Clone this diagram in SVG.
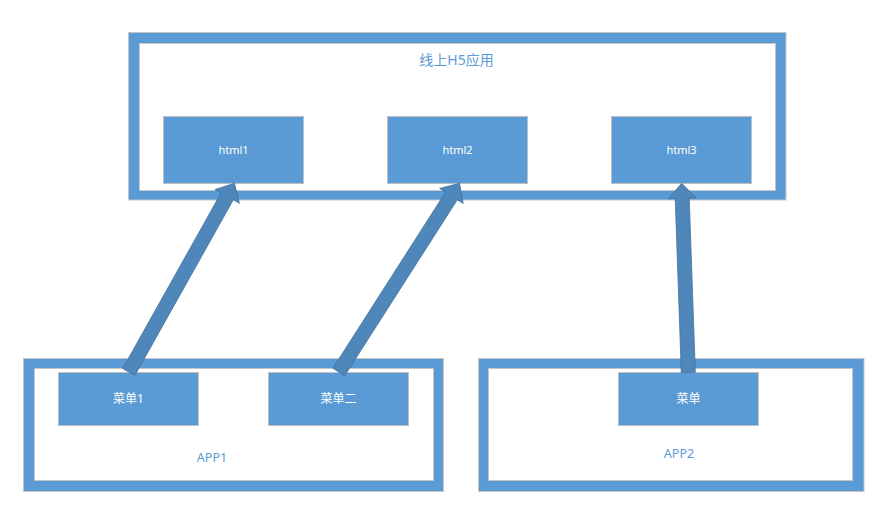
<svg xmlns="http://www.w3.org/2000/svg" width="880" height="526" viewBox="0 0 880 526">
<style>
.frame-out{fill:#5b9bd5;stroke:#c4c4c4;stroke-width:1}
.frame-in{fill:#ffffff;stroke:#c4c4c4;stroke-width:1}
.box{fill:#5b9bd5;stroke:#c0c0c0;stroke-width:1}
.t{font-family:"Noto Sans","Noto Sans CJK SC",sans-serif;text-anchor:middle;dominant-baseline:central}
.w{fill:#ffffff}
.b{fill:#5b9bd5}
.arrow{fill:#4f87bb;stroke:#41719c;stroke-width:0.8;stroke-linejoin:miter}
</style>
<rect width="880" height="526" fill="#ffffff"/>
<g id="h5app">
<rect class="frame-out" x="128.5" y="32.5" width="657.5" height="167.5"/>
<rect class="frame-in" x="139.5" y="43.5" width="636" height="147"/>
<text class="t b" x="456.5" y="59" font-size="14">线上H5应用</text>
</g>
<g id="app1">
<rect class="frame-out" x="23.5" y="358.5" width="420" height="133"/>
<rect class="frame-in" x="34.5" y="368.5" width="399" height="112"/>
<text class="t b" x="212" y="457" font-size="12.5">APP1</text>
</g>
<g id="app2">
<rect class="frame-out" x="478.5" y="358.5" width="385.5" height="133"/>
<rect class="frame-in" x="488.5" y="368.5" width="364" height="112"/>
<text class="t b" x="679" y="453" font-size="12.5">APP2</text>
</g>
<g id="html1">
<rect class="box" x="163.5" y="116.5" width="140" height="67"/>
<text class="t w" x="233.5" y="149.5" font-size="11">html1</text>
</g>
<g id="html2">
<rect class="box" x="387.5" y="116.5" width="140" height="67"/>
<text class="t w" x="457.5" y="149.5" font-size="11">html2</text>
</g>
<g id="html3">
<rect class="box" x="611.5" y="116.5" width="140" height="67"/>
<text class="t w" x="681.5" y="149.5" font-size="11">html3</text>
</g>
<g id="menu1">
<rect class="box" x="58.5" y="372.5" width="140" height="53"/>
<text class="t w" x="128.5" y="398.5" font-size="12">菜单1</text>
</g>
<g id="menu2">
<rect class="box" x="268.5" y="372.5" width="140" height="53"/>
<text class="t w" x="338.5" y="398.5" font-size="12">菜单二</text>
</g>
<g id="menu3">
<rect class="box" x="618.5" y="372.5" width="140" height="53"/>
<text class="t w" x="688.5" y="398.5" font-size="12">菜单</text>
</g>
<g id="connectors">
<polygon class="arrow" points="134.9,375.4 233.28,199.81 239.38,203.23 234.5,183.3 214.96,189.55 221.06,192.97 122.7,368.6"/>
<polygon class="arrow" points="344.7,375.77 457.32,199.71 463.21,203.48 459.5,183.3 439.63,188.4 445.52,192.17 332.9,368.23"/>
<polygon class="arrow" points="695.3,372.26 689.22,198.05 696.21,197.8 681.7,183.3 668.23,198.78 675.22,198.53 681.3,372.74"/>
</g>
</svg>
